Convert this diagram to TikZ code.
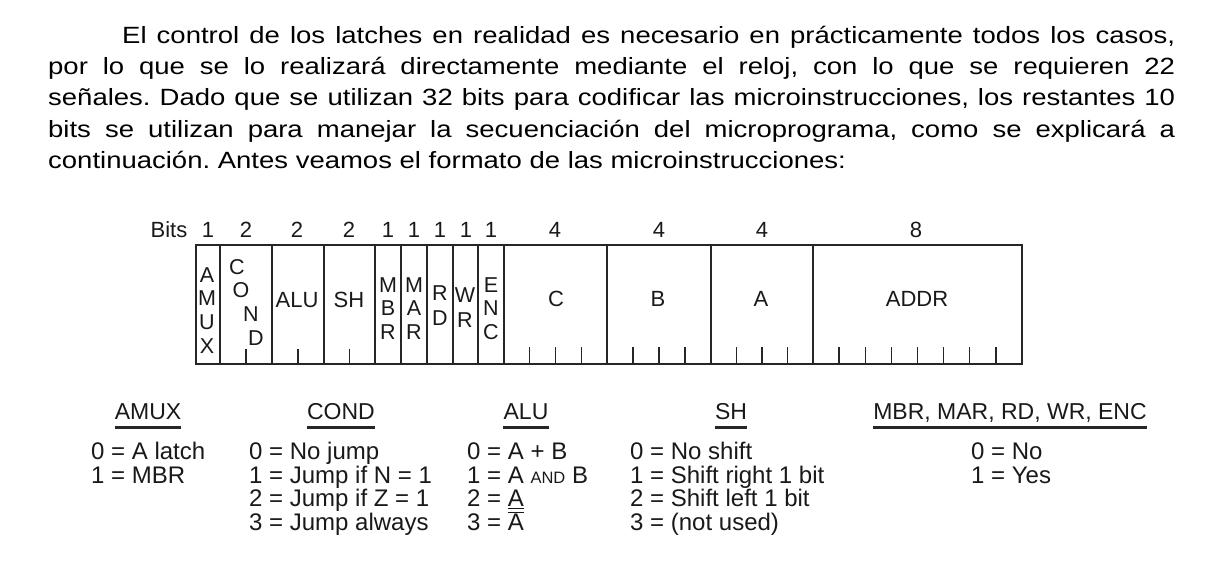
\documentclass[tikz,border=0pt]{standalone}
\usepackage{fontspec}
\setmainfont{Liberation Sans}
\newfontfamily\parafont[FakeStretch=1.17]{Liberation Sans}
\frenchspacing
\begin{document}
\begin{tikzpicture}[x=1pt,y=-1pt,
  para/.style={font=\parafont\fontsize{23.5}{28}\selectfont\frenchspacing, inner sep=0pt, anchor=base west, text=black},
  bitsnum/.style={font=\fontsize{22}{22}\selectfont, inner sep=0pt, text height=15.7pt, text depth=0pt, text=black!90},
  flabel/.style={font=\fontsize{22}{22}\selectfont, inner sep=0pt, text height=15.7pt, text depth=0pt, text=black!90},
  vlet/.style={font=\fontsize{21.5}{21.5}\selectfont, inner sep=0pt, text height=15.4pt, text depth=0pt, text=black!90},
  hdr/.style={font=\fontsize{23}{23}\selectfont, inner sep=0pt, text height=16.5pt, text depth=0pt, text=black!90},
  leg/.style={font=\fontsize{24}{24}\selectfont, inner sep=0pt, anchor=base west, text=black!90},
  frame/.style={draw=black!85, line width=1.5pt},
  tickmark/.style={draw=black!85, line width=1.4pt},
  uline/.style={draw=black!85, line width=2.6pt}
]
\useasboundingbox (0,0) rectangle (1211,562);

% paragraph
\node[para] (p1) at (122,43.5) {\makebox[1053pt][s]{El control de los latches en realidad es necesario en prácticamente todos los casos,}};
\node[para] (p2) at (48,74.7) {\makebox[1127pt][s]{por lo que se lo realizará directamente mediante el reloj, con lo que se requieren 22}};
\node[para] (p3) at (48,105.9) {\makebox[1127pt][s]{señales. Dado que se utilizan 32 bits para codificar las microinstrucciones, los restantes 10}};
\node[para] (p4) at (48,137.1) {\makebox[1127pt][s]{bits se utilizan para manejar la secuenciación del microprograma, como se explicará a}};
\node[para] (p5) at (48,168.3) {continuación. Antes veamos el formato de las microinstrucciones:};

% bit counts
\node[bitsnum] (bits) at (169,230) {Bits};
\foreach \x/\t [count=\i] in {208/1,246/2,297/2,349/2,388/1,414/1,440/1,466/1,491/1,555/4,659/4,762/4,916/8}
  \node[bitsnum] (bn\i) at (\x,230) {\t};

% microinstruction box
\draw[frame] (196,245) rectangle (1022,364);
\foreach \x in {220,272,324,375,401,427,453,478,504,607,711,813}
  \draw[frame] (\x,245) -- (\x,364);
\foreach \x in {246,298,349.5}
  \draw[tickmark] (\x,349) -- (\x,364);
\foreach \x in {529.75,555.5,581.25,633,659,685,736.5,762,787.5,839.1,865.25,891.4,917.5,943.6,969.75,995.9}
  \draw[tickmark] (\x,347) -- (\x,364);

% field labels
\node[flabel] (falu) at (297,300) {ALU};
\node[flabel] (fsh) at (349,300) {SH};
\node[flabel] (fc) at (556,299) {C};
\node[flabel] (fb) at (658,299) {B};
\node[flabel] (fa) at (761,299) {A};
\node[flabel] (faddr) at (917,299) {ADDR};

\foreach \l/\y [count=\i] in {A/275,M/298,U/322,X/346}
  \node[vlet] (amux\i) at (207,\y) {\l};
\foreach \l/\x/\y [count=\i] in {C/237/267,O/241/290,N/251/314,D/256/338}
  \node[vlet] (cond\i) at (\x,\y) {\l};
\foreach \l/\y [count=\i] in {M/285,B/308,R/332}
  \node[vlet] (mbr\i) at (388,\y) {\l};
\foreach \l/\y [count=\i] in {M/285,A/308,R/332}
  \node[vlet] (mar\i) at (414,\y) {\l};
\foreach \l/\y [count=\i] in {R/293,D/318}
  \node[vlet] (rd\i) at (440,\y) {\l};
\foreach \l/\y [count=\i] in {W/295,R/320}
  \node[vlet] (wr\i) at (465,\y) {\l};
\foreach \l/\y [count=\i] in {E/285,N/308,C/332}
  \node[vlet] (enc\i) at (491,\y) {\l};

% legend headers
\node[hdr] (hamux) at (148,411) {AMUX};
\node[hdr] (hcond) at (341,411) {COND};
\node[hdr] (halu) at (526,411) {ALU};
\node[hdr] (hsh) at (731,411) {SH};
\node[hdr] (hsig) at (1010,411) {MBR, MAR, RD, WR, ENC};
\foreach \h in {hamux,hcond,halu,hsh,hsig}
  \draw[uline] ([yshift=-8pt]\h.south west) -- ([yshift=-8pt]\h.south east);

% legend entries
\node[leg] (am0) at (91,459.5) {0 = A latch};
\node[leg] (am1) at (91,483) {1 = MBR};

\node[leg] (co0) at (249,459.5) {0 = No jump};
\node[leg] (co1) at (249,483) {1 = Jump if N = 1};
\node[leg] (co2) at (249,506.5) {2 = Jump if Z = 1};
\node[leg] (co3) at (249,530.5) {3 = Jump always};

\node[leg] (al0) at (467,459.5) {0 = A + B};
\node[leg] (al1) at (467,483) {1 = A {\fontsize{16.5}{16.5}\selectfont AND} B};
\node[leg] (al2) at (467,506.5) {2 = \underline{A}};
\node[leg] (al3) at (467,530.5) {3 = $\overline{\mbox{A}}$};

\node[leg] (sh0) at (630,459.5) {0 = No shift};
\node[leg] (sh1) at (630,483) {1 = Shift right 1 bit};
\node[leg] (sh2) at (630,506.5) {2 = Shift left 1 bit};
\node[leg] (sh3) at (630,530.5) {3 = (not used)};

\node[leg] (sg0) at (971,459.5) {0 = No};
\node[leg] (sg1) at (971,483) {1 = Yes};
\end{tikzpicture}
\end{document}
